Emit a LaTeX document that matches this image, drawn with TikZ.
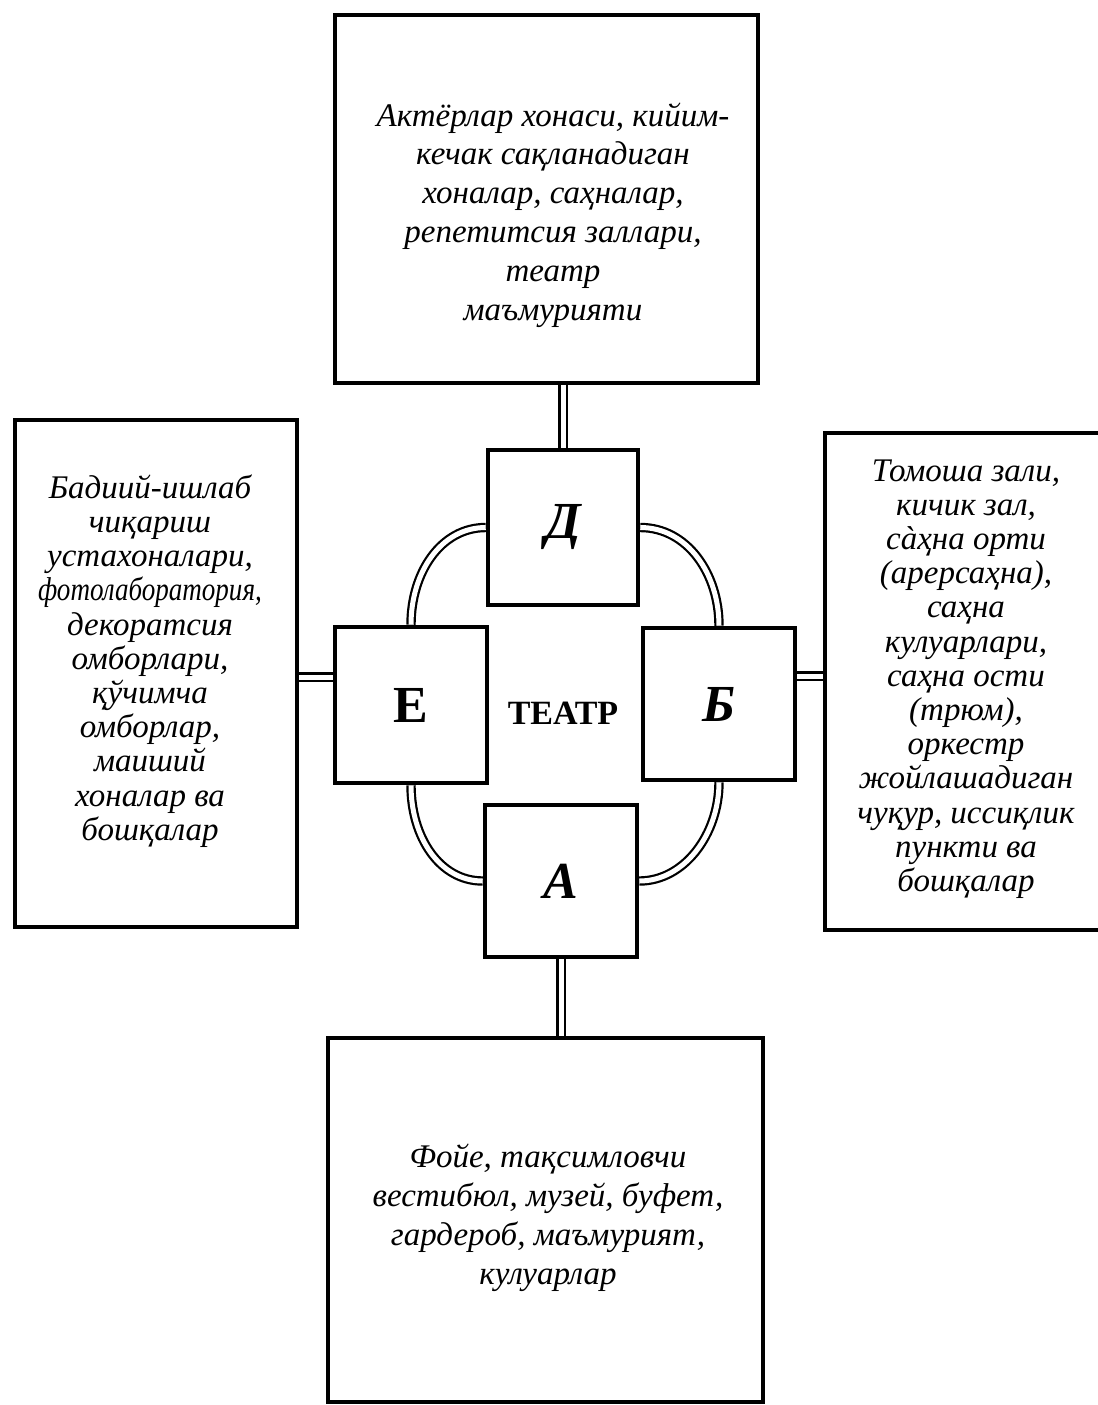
\documentclass[tikz,border=0pt]{standalone}
\usepackage{fontspec}
\setmainfont{Liberation Serif}
\usetikzlibrary{backgrounds}
\tikzset{
  bigbox/.style={draw, line width=2.3pt, inner sep=0pt},
  smallbox/.style={draw, line width=2.3pt, inner sep=0pt, minimum width=75pt, minimum height=77pt,
    font=\fontsize{26}{28}\selectfont\bfseries},
  bodytext/.style={align=center, inner sep=0pt, font=\fontsize{16.5}{19.4}\selectfont\itshape},
  sidetext/.style={align=center, inner sep=0pt, font=\fontsize{16.5}{17.1}\selectfont\itshape},
  dbl/.style={double, double distance=2.5pt, line width=1.1pt},
}
\begin{document}
\begin{tikzpicture}[x=0.5pt,y=-0.5pt]
\useasboundingbox (0,0) rectangle (1098,1405);

% outer boxes
\node[bigbox, minimum width=211.5pt, minimum height=184pt] (topbox) at (546.5,199) {};
\node[bigbox, minimum width=141pt, minimum height=253.5pt] (leftbox) at (156,673.5) {};
\node[bigbox, minimum width=142.5pt, minimum height=248.5pt] (rightbox) at (967.5,681.5) {};
\node[bigbox, minimum width=217.5pt, minimum height=182pt] (botbox) at (545.5,1220) {};

% texts
\node[bodytext] (toptext) at (553,215) {Актёрлар хонаси, кийим-\\кечак сақланадиган\\хоналар, саҳналар,\\репетитсия заллари,\\театр\\маъмурияти};
\node[sidetext] (lefttext) at (150,661) {Бадиий-ишлаб\\чиқариш\\устахоналари,\\\scalebox{0.82}[1]{фотолаборатория,}\\декоратсия\\омборлари,\\қўчимча\\омборлар,\\маиший\\хоналар ва\\бошқалар};
\node[sidetext] (righttext) at (966,679) {Томоша зали,\\кичик зал,\\сàҳна орти\\(арерсаҳна),\\саҳна\\кулуарлари,\\саҳна ости\\(трюм),\\оркестр\\жойлашадиган\\чуқур, иссиқлик\\пункти ва\\бошқалар};
\node[bodytext] (bottext) at (548,1218) {Фойе, тақсимловчи\\вестибюл, музей, буфет,\\гардероб, маъмурият,\\кулуарлар};

% inner boxes
\node[smallbox, minimum height=77.5pt] (D) at (563,527.5) {\raisebox{-4pt}{\itshape Д}};
\node[smallbox, minimum width=76pt, minimum height=78pt] (E) at (411,705) {\raisebox{-4pt}{Е}};
\node[smallbox, minimum width=76pt, minimum height=76pt] (B) at (719,704) {\raisebox{-4pt}{\itshape Б}};
\node[smallbox, minimum width=76pt, minimum height=76pt] (A) at (561,881) {\raisebox{-3pt}{\itshape А}};
\node[inner sep=0pt, font=\fontsize{17}{20}\selectfont\bfseries] (teatr) at (563,713) {ТЕАТР};

\coordinate (lc) at (316,677);
\coordinate (rc) at (810,676);

\begin{scope}[on background layer]
  \draw[dbl] (topbox.south -| D.north) -- (D.north);
  \draw[dbl] (A.south) -- (botbox.north -| A.south);
  \draw[dbl] (leftbox.east |- lc) -- (E.west |- lc);
  \draw[dbl] (B.east |- rc) -- (rightbox.west |- rc);
  \draw[dbl] (D.west) .. controls +(-45,0) and +(0,-52) .. (E.north);
  \draw[dbl] (D.east) .. controls +(47,0) and +(0,-52) .. (B.north);
  \draw[dbl] (E.south) .. controls +(0,52) and +(-43,0) .. (A.west);
  \draw[dbl] (B.south) .. controls +(0,52) and +(45,0) .. (A.east);
\end{scope}
\end{tikzpicture}
\end{document}
